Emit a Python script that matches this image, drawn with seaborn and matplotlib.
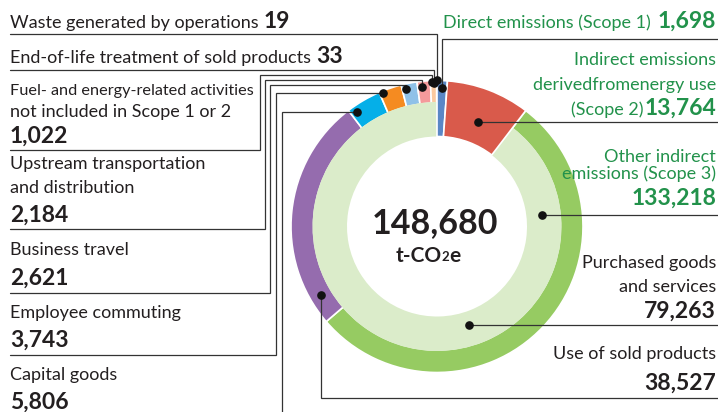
import math
import matplotlib
matplotlib.use("Agg")
import matplotlib.pyplot as plt
import seaborn as sns

# ---- data (t-CO2e) ----
scope1 = 1698
scope2 = 13764
scope3_categories = ["Purchased goods and services", "Use of sold products",
                     "Capital goods", "Employee commuting", "Business travel",
                     "Upstream transportation and distribution",
                     "Fuel- and energy-related activities",
                     "End-of-life treatment of sold products",
                     "Waste generated by operations"]
scope3_values = [79263, 38527, 5806, 3743, 2621, 2184, 1022, 33, 19]
scope3_total = sum(scope3_values)
grand_total = scope1 + scope2 + scope3_total

scope_colors = ["#5a87c6", "#d95a4b", "#dbecca"]
scope3_colors = ["#96cb62", "#956cae", "#05afe8", "#f58b21", "#8fc1e8",
                 "#f59a9b", "#fbc99f", "#e6e6e6", "#f2e27a"]

# ---- page setup: axes in pixel units, y measured upward ----
W, H = 718, 412
sns.set_theme(style="white")
plt.rcParams["font.family"] = ["Lato", "DejaVu Sans"]

FS_LABEL = 13
FS_NUM = 16.5

fig = plt.figure(figsize=(W / 100, H / 100), dpi=100)
ax = fig.add_axes([0, 0, 1, 1])


def py(y):
    """Convert a top-down pixel row into axes units."""
    return H - y


CX, CY = 437, py(226.5)
R_OUT, R_MID, R_IN = 146, 123.5, 90

# outer ring: every category, Scope 1/2 slots hidden (drawn full depth later)
outer_vals = [scope1, scope2] + scope3_values
outer, _ = ax.pie(outer_vals, radius=R_OUT, center=(CX, CY), startangle=90,
                  counterclock=False, colors=scope_colors[:2] + scope3_colors,
                  wedgeprops=dict(width=R_OUT - R_MID, edgecolor="white",
                                  linewidth=1.2))
outer[0].set_visible(False)
outer[1].set_visible(False)

# inner ring: Scope 3 total as one band
inner, _ = ax.pie([scope1 + scope2, scope3_total], radius=R_MID + 1,
                  center=(CX, CY), startangle=90, counterclock=False,
                  colors=["none", scope_colors[2]],
                  wedgeprops=dict(width=R_MID + 1 - R_IN, edgecolor="none",
                                  linewidth=0))
inner[0].set_visible(False)

# Scope 1 and 2 span both rings
full, _ = ax.pie([scope1, scope2, scope3_total], radius=R_OUT, center=(CX, CY),
                 startangle=90, counterclock=False, colors=scope_colors,
                 wedgeprops=dict(width=R_OUT - R_IN, edgecolor="white",
                                 linewidth=1.2))
full[2].set_visible(False)

ax.set_xlim(0, W)
ax.set_ylim(0, H)
ax.set_aspect("auto")
ax.axis("off")

renderer = fig.canvas.get_renderer()

DARK = "#231f20"
GREEN = "#22924b"
LINE = "#333333"


def label(txt):
    return (txt, "normal", FS_LABEL)


def number(val):
    return (f"{val:,}", "bold", FS_NUM)


def runs(x, y, parts, ha="left", color=DARK, gap=5, max_w=None):
    """Draw text runs on one baseline; parts = [(text, weight, size)]."""
    items = parts if ha == "left" else list(reversed(parts))
    cur = x
    for txt, weight, size in items:
        t = ax.text(cur, py(y), txt, ha=ha, va="baseline", fontsize=size,
                    fontweight=weight, color=color)
        w = t.get_window_extent(renderer).width
        if max_w is not None and w > max_w:
            t.set_fontsize(size * max_w / w)
            w = t.get_window_extent(renderer).width
        cur = cur + (w + gap) if ha == "left" else cur - (w + gap)


def polar(theta, r):
    a = math.radians(theta)
    return CX + r * math.sin(a), CY + r * math.cos(a)


def leader(x0, theta, r, yu=None, ex=None, hy=None):
    dx, dy = polar(theta, r)
    yu = dy if yu is None else py(yu)
    hy = dy if hy is None else py(hy)
    ex = dx if ex is None else ex
    xs = [x0, ex, ex, dx, dx]
    ys = [yu, yu, hy, hy, dy]
    ax.plot(xs, ys, color=LINE, lw=0.9, solid_joinstyle="miter", zorder=5)
    ax.plot([dx], [dy], "o", color="#111111", ms=5.2, zorder=6)


# ---- left-hand callouts ----
LX = 10
runs(LX, 28, [label("Waste generated by operations"), number(scope3_values[8])])
runs(LX, 63, [label("End-of-life treatment of sold products"),
              number(scope3_values[7])])
runs(LX, 95, [label("Fuel- and energy-related activities")], max_w=244)
runs(LX, 117, [label("not included in Scope 1 or 2")], max_w=228)
runs(LX, 143, [number(scope3_values[6])])
runs(LX, 169, [label("Upstream transportation")])
runs(LX, 193, [label("and distribution")])
runs(LX, 222, [number(scope3_values[5])])
runs(LX, 255, [label("Business travel")])
runs(LX, 285, [number(scope3_values[4])])
runs(LX, 318, [label("Employee commuting")])
runs(LX, 347, [number(scope3_values[3])])
runs(LX, 380, [label("Capital goods")])
runs(LX, 409, [number(scope3_values[2])])

leader(LX, 0.0, 146.5, yu=34)                      # waste
leader(LX, 359.0, 143.5, yu=70)                    # end-of-life
leader(LX, 358.0, 144.5, yu=150, ex=260, hy=75)    # fuel
leader(LX, 353.9, 140.3, yu=229, ex=265, hy=80)    # upstream
leader(LX, 347.3, 141.0, yu=293, ex=270, hy=85)    # business travel
leader(LX, 338.1, 143.6, yu=355, ex=276)           # employee commuting
leader(LX, 325.0, 140.0, yu=425, ex=282)           # capital goods

# ---- right-hand callouts ----
RX = 716
runs(RX, 28, [label("Direct emissions (Scope 1)"), number(scope1)],
     ha="right", color=GREEN, gap=7)
runs(RX, 65, [label("Indirect emissions")], ha="right", color=GREEN)
runs(RX, 90, [label("derivedfromenergy use")], ha="right", color=GREEN)
runs(RX, 115, [label("(Scope 2)"), number(scope2)], ha="right", color=GREEN,
     gap=1)
runs(RX, 162, [label("Other indirect")], ha="right", color=GREEN)
runs(RX, 179, [label("emissions (Scope 3)")], ha="right", color=GREEN)
runs(RX, 205, [number(scope3_total)], ha="right", color=GREEN)
runs(RX, 268, [label("Purchased goods")], ha="right")
runs(RX, 292, [label("and services")], ha="right")
runs(RX, 318, [number(scope3_values[0])], ha="right")
runs(RX, 359, [label("Use of sold products")], ha="right")
runs(RX, 390, [number(scope3_values[1])], ha="right")

RE = 718
leader(RE, 2.06, 139.0, yu=39)        # scope 1
leader(RE, 21.5, 112.0)               # scope 2
leader(RE, 84.0, 105.6)               # scope 3
leader(RE, 162.0, 104.0)              # purchased goods
leader(RE, 239.3, 135.0, yu=398)      # use of sold products

# ---- centre total ----
ax.text(435, py(233), f"{grand_total:,}", ha="center", va="baseline",
        fontsize=24.5, fontweight="bold", color=DARK)
t1 = ax.text(0, py(262), "t-CO", ha="left", va="baseline", fontsize=15,
             fontweight="bold", color=DARK)
t2 = ax.text(0, py(261), "2", ha="left", va="baseline", fontsize=9.5,
             fontweight="bold", color=DARK)
t3 = ax.text(0, py(262), "e", ha="left", va="baseline", fontsize=15,
             fontweight="bold", color=DARK)
w1 = t1.get_window_extent(renderer).width
w2 = t2.get_window_extent(renderer).width
w3 = t3.get_window_extent(renderer).width
start = 428 - (w1 + w2 + w3) / 2
t1.set_x(start)
t2.set_x(start + w1 - 0.5)
t3.set_x(start + w1 + w2)

fig.savefig("out.png", dpi=100)
